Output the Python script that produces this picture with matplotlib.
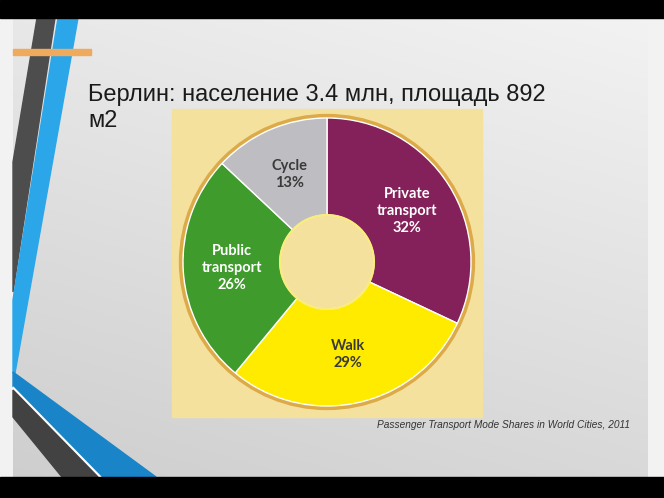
import numpy as np
import matplotlib.pyplot as plt
from matplotlib.patches import Polygon, Rectangle, Circle

# data
modes = ["Private\ntransport", "Walk", "Public\ntransport", "Cycle"]
shares = [32, 29, 26, 13]
colors = ["#84205A", "#FFEB00", "#3F9B2B", "#BEBEC2"]
text_colors = ["white", "#3a3a3a", "white", "#3a3a3a"]

title_lines = ["Берлин: население 3.4 млн, площадь 892", "м2"]
caption = "Passenger Transport Mode Shares in World Cities, 2011"

W, H = 664, 498
fig = plt.figure(figsize=(W / 100, H / 100), dpi=100)

# background axes in pixel coordinates
bg = fig.add_axes([0, 0, 1, 1])
bg.set_xlim(0, W)
bg.set_ylim(H, 0)
bg.axis("off")

bg.add_patch(Rectangle((0, 0), W, H, color="#f2f2f2", zorder=0))

# slide gradient, light at the top right, darker at the bottom left
gy, gx = np.mgrid[0:1:100j, 0:1:100j]
shade = 0.95 - 0.10 * gy - 0.04 * (1 - gx)
bg.imshow(np.dstack([shade, shade, shade]), extent=(13, 648, 477, 18),
          aspect="auto", zorder=1, interpolation="bilinear")

# black bars
bg.add_patch(Rectangle((0, 0), W, 18, color="black", zorder=5))
bg.add_patch(Rectangle((0, 477), W, 21, color="black", zorder=5))

# decorative stripes on the left
bg.add_patch(Polygon([(37, 18), (55, 18), (13, 292), (13, 162)],
                     color="#4d4d4d", zorder=2))
bg.add_patch(Polygon([(58, 18), (78, 18), (15, 373), (13, 373), (13, 300)],
                     color="#2ba6e9", zorder=2))
bg.add_patch(Polygon([(13, 372), (156, 477), (101, 477), (13, 387)],
                     color="#1985c8", zorder=2))
bg.add_patch(Polygon([(13, 387), (101, 477), (98, 477), (13, 390)],
                     color="white", zorder=2))
bg.add_patch(Polygon([(13, 390), (98, 477), (62, 477), (13, 417)],
                     color="#424242", zorder=2))
bg.add_patch(Rectangle((13, 49), 78, 6, color="#f0aa5e", zorder=3))

# beige panel behind the chart
bg.add_patch(Rectangle((172, 109), 310, 308, color="#f5e19e", zorder=2))

for i, line in enumerate(title_lines):
    bg.text(88, 101 + 26 * i, line, fontsize=17, family="Liberation Sans",
            color="#1a1a1a", va="baseline", zorder=4)
bg.text(377, 425, caption, fontsize=7.3, family="Liberation Sans",
        style="italic", color="#333333", va="center", zorder=4)

# donut chart
cx, cy, half = 327, 262, 150
ax = fig.add_axes([(cx - half) / W, (H - cy - half) / H, 2 * half / W, 2 * half / H])
ax.set_zorder(3)
ax.patch.set_alpha(0)

wedges, _ = ax.pie(shares, colors=colors, radius=1.44, startangle=90,
                   counterclock=False,
                   wedgeprops=dict(width=0.97, edgecolor="white", linewidth=1))

ax.add_patch(Circle((0, 0), 1.465, fill=False, edgecolor="#dcaa48", linewidth=2.4))
ax.add_patch(Circle((0, 0), 0.47, fill=False, edgecolor="#f9ec7a", linewidth=1.5))

for w, name, share, tc in zip(wedges, modes, shares, text_colors):
    mid = np.deg2rad((w.theta1 + w.theta2) / 2)
    ax.text(0.95 * np.cos(mid), 0.95 * np.sin(mid), f"{name}\n{share}%",
            ha="center", va="center", fontsize=10.5, family="Lato",
            weight="bold", color=tc, linespacing=1.3)

ax.set_xlim(-1.5, 1.5)
ax.set_ylim(-1.5, 1.5)
ax.set_aspect("equal")
ax.axis("off")

plt.savefig("out.png", dpi=100)
